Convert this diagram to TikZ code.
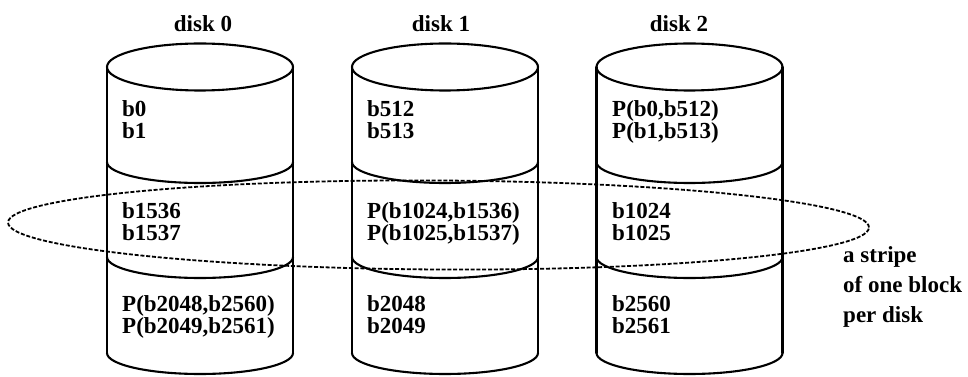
\documentclass[tikz,border=0pt]{standalone}
\usepackage{fontspec}
\setmainfont{Liberation Serif}
\begin{document}
\begin{tikzpicture}[x=1pt,y=1pt,
  outline/.style={line width=2.1pt, line join=round, line cap=round},
  blk/.style={font=\fontsize{23}{22}\selectfont\bfseries, anchor=base west, align=left, inner sep=0pt},
  disklabel/.style={font=\fontsize{23}{22}\selectfont\bfseries, anchor=base, inner sep=0pt},
  stripe/.style={line width=1.8pt, dash pattern=on 4pt off 1.8pt}]
\useasboundingbox (0,0) rectangle (968,377);
% cylinders
\foreach \cx/\nm in {200/c0,445/c1,689.5/c2}{
  \coordinate (\nm) at (\cx,310);
  \draw[outline] (\nm) ellipse [x radius=93, y radius=23.5];
  \draw[outline] (\cx-93,310) -- (\cx-93,24);
  \draw[outline] (\cx+93,310) -- (\cx+93,24);
  \foreach \yy in {215,120,24}{
    \draw[outline] (\cx-93,\yy) arc[start angle=180, end angle=360, x radius=93, y radius=21];
  }
}
% disk labels
\node[disklabel] (d0) at (203,345) {disk 0};
\node[disklabel] (d1) at (441,345) {disk 1};
\node[disklabel] (d2) at (679,345) {disk 2};
% block texts (base anchor = baseline of the last line)
\node[blk] (t00) at (122,238) {b0\\b1};
\node[blk] (t01) at (122,136) {b1536\\b1537};
\node[blk] (t02) at (122,43) {P(b2048,b2560)\\P(b2049,b2561)};
\node[blk] (t10) at (367,238) {b512\\b513};
\node[blk] (t11) at (367,136) {P(b1024,b1536)\\P(b1025,b1537)};
\node[blk] (t12) at (367,43) {b2048\\b2049};
\node[blk] (t20) at (612,238) {P(b0,b512)\\P(b1,b513)};
\node[blk] (t21) at (612,136) {b1024\\b1025};
\node[blk] (t22) at (612,43) {b2560\\b2561};
% stripe
\draw[stripe] (438.5,152) ellipse [x radius=430.5, y radius=44.5, rotate=-0.33];
\node[font=\fontsize{23}{30}\selectfont\bfseries, anchor=base west, align=left, inner sep=0pt] (st) at (843,54) {a stripe\\of one block\\per disk};
\end{tikzpicture}
\end{document}
